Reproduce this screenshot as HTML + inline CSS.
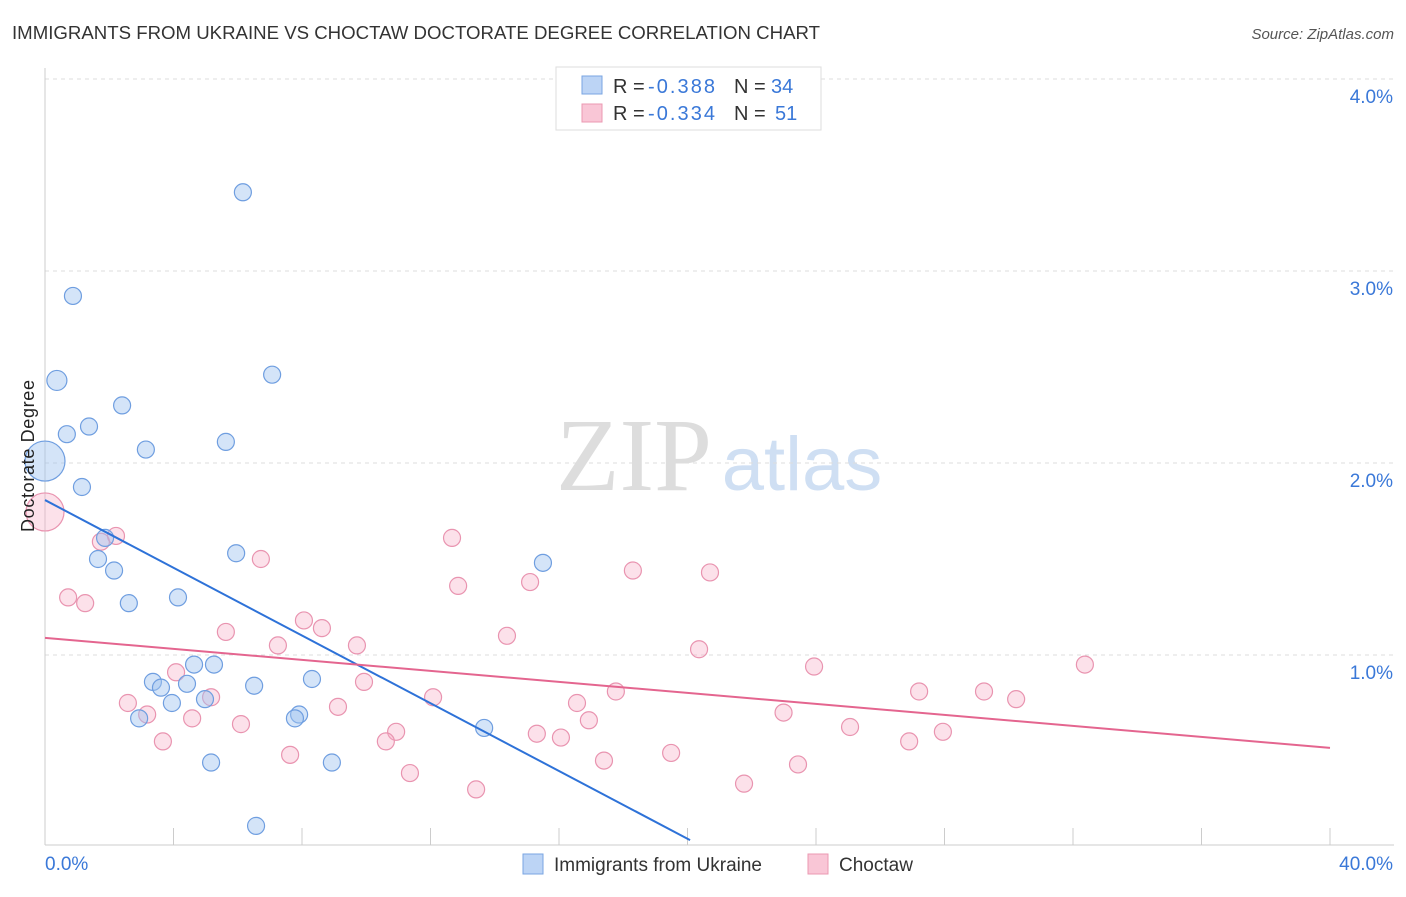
<!DOCTYPE html>
<html><head><meta charset="utf-8"><style>
body{margin:0;background:#fff;font-family:"Liberation Sans",sans-serif;}
</style></head><body>
<svg id="c" width="1406" height="892" xmlns="http://www.w3.org/2000/svg">
<text x="12" y="39" font-size="18" fill="#333" textLength="808" lengthAdjust="spacingAndGlyphs">IMMIGRANTS FROM UKRAINE VS CHOCTAW DOCTORATE DEGREE CORRELATION CHART</text>
<text x="1394" y="39" font-size="15" fill="#555" text-anchor="end" font-style="italic">Source: ZipAtlas.com</text>
<text x="634" y="490" font-size="104" fill="#ddd" text-anchor="middle" font-family="Liberation Serif">ZIP</text>
<text x="802" y="490" font-size="76" fill="#cfdff3" text-anchor="middle">atlas</text>
<g id="grid"></g>
<g id="marks"></g>
<text transform="translate(34,456) rotate(-90)" font-size="18" fill="#222" text-anchor="middle" textLength="152">Doctorate Degree</text>
<g font-size="20">
<rect x="556" y="67" width="265" height="63" fill="#fff" stroke="#ddd"/>
<rect x="582" y="76" width="20" height="18" fill="#bcd4f5" stroke="#7aa5e2"/>
<rect x="582" y="104" width="20" height="18" fill="#f9c6d6" stroke="#eb98b2"/>
<text x="613" y="93" fill="#333">R =</text><text x="648" y="93" fill="#3a78d8" textLength="67">-0.388</text>
<text x="734" y="93" fill="#333">N =</text><text x="771" y="93" fill="#3a78d8">34</text>
<text x="613" y="120" fill="#333">R =</text><text x="648" y="120" fill="#3a78d8" textLength="67">-0.334</text>
<text x="734" y="120" fill="#333">N =</text><text x="775" y="120" fill="#3a78d8">51</text>
</g>
<g>
<rect x="523" y="854" width="20" height="20" fill="#bcd4f5" stroke="#7aa5e2"/>
<text x="554" y="871" font-size="19" fill="#333">Immigrants from Ukraine</text>
<rect x="808" y="854" width="20" height="20" fill="#f9c6d6" stroke="#eb98b2"/>
<text x="839" y="871" font-size="19" fill="#333">Choctaw</text>
</g>
</svg>
<script>
const blueX=[6.16,0.87,0.37,7.07,2.40,0.68,1.37,3.14,5.63,0,1.15,1.87,1.65,2.15,5.95,15.5,2.61,4.14,4.64,5.26,3.36,3.61,4.42,3.95,4.98,6.51,8.31,2.93,7.91,7.78,13.67,5.17,8.93,6.57];
const blueY=[3.41,2.87,2.43,2.46,2.30,2.15,2.19,2.07,2.11,2.01,1.875,1.61,1.50,1.44,1.53,1.48,1.27,1.30,0.95,0.95,0.86,0.83,0.85,0.75,0.77,0.84,0.875,0.67,0.69,0.67,0.62,0.44,0.44,0.11];
const pinkX=[0,2.21,1.74,6.72,12.67,12.86,15.1,18.3,20.7,0.72,1.25,5.63,8.06,8.62,7.25,9.71,14.38,20.36,23.94,32.37,4.08,9.93,17.77,27.21,29.23,30.23,12.08,2.58,5.17,3.18,4.58,9.12,16.56,16.93,6.10,22.99,25.06,10.93,10.61,15.31,16.06,27.95,26.9,3.67,7.63,19.49,17.4,23.44,11.36,21.76,13.42];
const pinkY=[1.745,1.62,1.59,1.50,1.61,1.36,1.38,1.44,1.43,1.30,1.27,1.12,1.18,1.14,1.05,1.05,1.10,1.03,0.94,0.95,0.91,0.86,0.81,0.81,0.81,0.77,0.78,0.75,0.78,0.69,0.67,0.73,0.75,0.66,0.64,0.70,0.625,0.60,0.55,0.59,0.57,0.60,0.55,0.55,0.48,0.49,0.45,0.43,0.385,0.33,0.30];
const blueTrend=[[0,1.807],[20.08,0.036]];
const pinkTrend=[[0,1.089],[40,0.516]];
const yTicks=[1,2,3,4];
const yTickLabels=["1.0%","2.0%","3.0%","4.0%"];
const xTicks=[0,4,8,12,16,20,24,28,32,36,40];
const NS="http://www.w3.org/2000/svg";
const X=v=>45+v*32.125, Y=v=>847-v*192;
function mk(p,t,a){const e=document.createElementNS(NS,t);for(const k in a)e.setAttribute(k,a[k]);p.appendChild(e);return e;}
const g=document.getElementById('grid'),m=document.getElementById('marks');
yTicks.forEach((t,i)=>{const l=mk(g,'line',{x1:45,x2:1394,y1:Y(t),y2:Y(t),stroke:'#ddd','stroke-dasharray':'4,4'});


const tx=mk(g,'text',{x:1393,y:Y(t)+24,'font-size':19,fill:'#3a78d8','text-anchor':'end'});tx.textContent=yTickLabels[i];

});
const ax=mk(g,'line',{x1:45,x2:1394,y1:845,y2:845,stroke:'#ccc'});


const ay=mk(g,'line',{x1:45,x2:45,y1:68,y2:845,stroke:'#ccc'});


xTicks.forEach(t=>{if(t===0)return;const l=mk(g,'line',{x1:X(t),x2:X(t),y1:828,y2:845,stroke:'#ccc'});

});
const xl0=mk(g,'text',{x:45,y:870,'font-size':19,fill:'#3a78d8'});xl0.textContent='0.0%';


const xl1=mk(g,'text',{x:1393,y:870,'font-size':19,fill:'#3a78d8','text-anchor':'end'});xl1.textContent='40.0%';


function r(x,y){return x===0?20:(x<0.5&&y>2.3?10:8.5);}
pinkX.forEach((x,i)=>{const c=mk(m,'circle',{cx:X(x),cy:Y(pinkY[i]),r:x===0?19:8.5,fill:'rgba(245,170,195,0.35)',stroke:'#e994b0','stroke-width':1.2});

});
blueX.forEach((x,i)=>{const c=mk(m,'circle',{cx:X(x),cy:Y(blueY[i]),r:r(x,blueY[i]),fill:'rgba(160,195,240,0.45)',stroke:'#6f9ee0','stroke-width':1.2});

});
const bl=mk(m,'line',{x1:X(blueTrend[0][0]),y1:Y(blueTrend[0][1]),x2:X(blueTrend[1][0]),y2:Y(blueTrend[1][1]),stroke:'#2e72d8','stroke-width':2});


const pl=mk(m,'line',{x1:X(pinkTrend[0][0]),y1:Y(pinkTrend[0][1]),x2:X(pinkTrend[1][0]),y2:Y(pinkTrend[1][1]),stroke:'#e4658f','stroke-width':2});


</script>
</body></html>
